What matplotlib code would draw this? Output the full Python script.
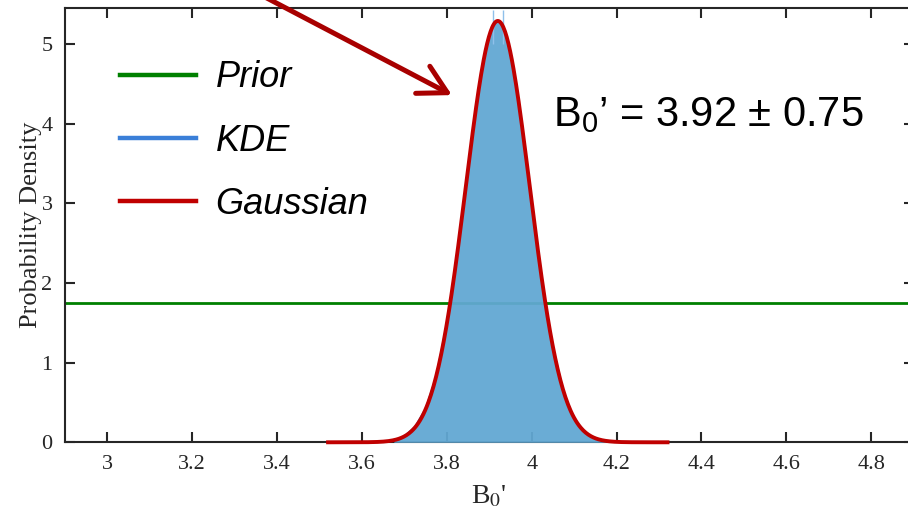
import numpy as np
import matplotlib
matplotlib.use("Agg")
import matplotlib.pyplot as plt
from matplotlib.lines import Line2D

# values
kde_x = [3.675, 3.700, 3.725, 3.750, 3.775, 3.800, 3.8125, 3.825, 3.8375, 3.850,
         3.8625, 3.875, 3.8875, 3.900, 3.9125, 3.925, 3.9375, 3.950, 3.9625, 3.975,
         3.9875, 4.000, 4.0125, 4.025, 4.0375, 4.050, 4.075, 4.100, 4.125, 4.150, 4.175]
kde_y = [0.02, 0.08, 0.20, 0.43, 0.84, 1.51, 1.93, 2.41, 2.93, 3.45,
         3.97, 4.44, 4.83, 5.12, 5.27, 5.29, 5.15, 4.90, 4.52, 4.07,
         3.55, 3.02, 2.50, 2.01, 1.58, 1.21, 0.64, 0.30, 0.13, 0.05, 0.01]
spike_x = [3.908, 3.932]
spike_top = [5.43, 5.43]

gauss_mean = 3.92
gauss_sigma = 0.0754
gauss_range = (3.52, 4.32)
prior_density = 1.75

plt.rcParams["mathtext.fontset"] = "custom"
plt.rcParams["mathtext.rm"] = "Liberation Sans"
plt.rcParams["mathtext.it"] = "Liberation Sans:italic"

fig = plt.figure(figsize=(9.08, 5.14), dpi=100)
ax = fig.add_axes([65 / 908, 71.7 / 514, 848.6 / 908, 434 / 514])

dark = "#262626"
red = "#c00000"
green = "#008000"
kde_blue = "#3a7fd8"
fill_blue = "#62a8d3"

# kde area + outline
ax.fill_between(kde_x, 0, kde_y, color=fill_blue, lw=0, zorder=3, alpha=0.95)
ax.plot(kde_x, kde_y, color=kde_blue, lw=1.0, zorder=3)
ax.vlines(spike_x, [5.0, 5.0], spike_top, color="#8fc0ea", lw=1.0, zorder=3)

# gaussian fit
gx = np.linspace(gauss_range[0], gauss_range[1], 400)
gy = np.exp(-0.5 * ((gx - gauss_mean) / gauss_sigma) ** 2) / (gauss_sigma * np.sqrt(2 * np.pi))
ax.plot(gx, gy, color=red, lw=2.8, zorder=4, clip_on=False)

# prior
ax.axhline(prior_density, color=green, lw=2.0, zorder=2)

ax.set_xlim(2.9, 4.9)
ax.set_ylim(0, 5.45)
ax.set_xticks(np.arange(3.0, 4.81, 0.2))
ax.set_xticklabels(["3", "3.2", "3.4", "3.6", "3.8", "4", "4.2", "4.4", "4.6", "4.8"])
ax.set_yticks(range(6))

for s in ax.spines.values():
    s.set_linewidth(1.5)
    s.set_color(dark)
ax.tick_params(direction="in", top=True, right=True, length=7, width=1.5,
               color=dark, labelcolor=dark, labelsize=16, pad=9)
for lab in ax.get_xticklabels() + ax.get_yticklabels():
    lab.set_family("Liberation Serif")

ax.set_xlabel("B$_0$'", family="Liberation Serif", math_fontfamily="stix",
              fontsize=20, color=dark)
ax.xaxis.set_label_coords(0.5, -0.095)
ax.set_ylabel("Probability Density", family="Liberation Serif",
              fontsize=19, color=dark)
ax.yaxis.set_label_coords(-0.027, 0.5)

handles = [Line2D([], [], color=green, lw=3.2),
           Line2D([], [], color=kde_blue, lw=3.2),
           Line2D([], [], color=red, lw=3.2)]
ax.legend(handles, ["Prior", "KDE", "Gaussian"], loc="upper left",
          bbox_to_anchor=(55 / 848.6, 0.88), frameon=False,
          prop={"family": "Liberation Sans", "style": "italic", "size": 26},
          handlelength=2.1, handletextpad=0.55, labelspacing=0.78,
          borderpad=0, borderaxespad=0)

ax.text(4.05, 4.11, "B$_0$\u2019 = 3.92 \u00b1 0.75", family="Liberation Sans",
        math_fontfamily="custom", fontsize=30, va="center", ha="left", zorder=5)

ax.annotate("", xy=(3.812, 4.36), xytext=(3.25, 5.93), annotation_clip=False,
            arrowprops=dict(arrowstyle="->, head_length=1.0, head_width=0.55",
                            color="#a80000", lw=3.6, mutation_scale=20,
                            shrinkA=0, shrinkB=0, clip_on=False))

fig.savefig("out.png", dpi=100)
